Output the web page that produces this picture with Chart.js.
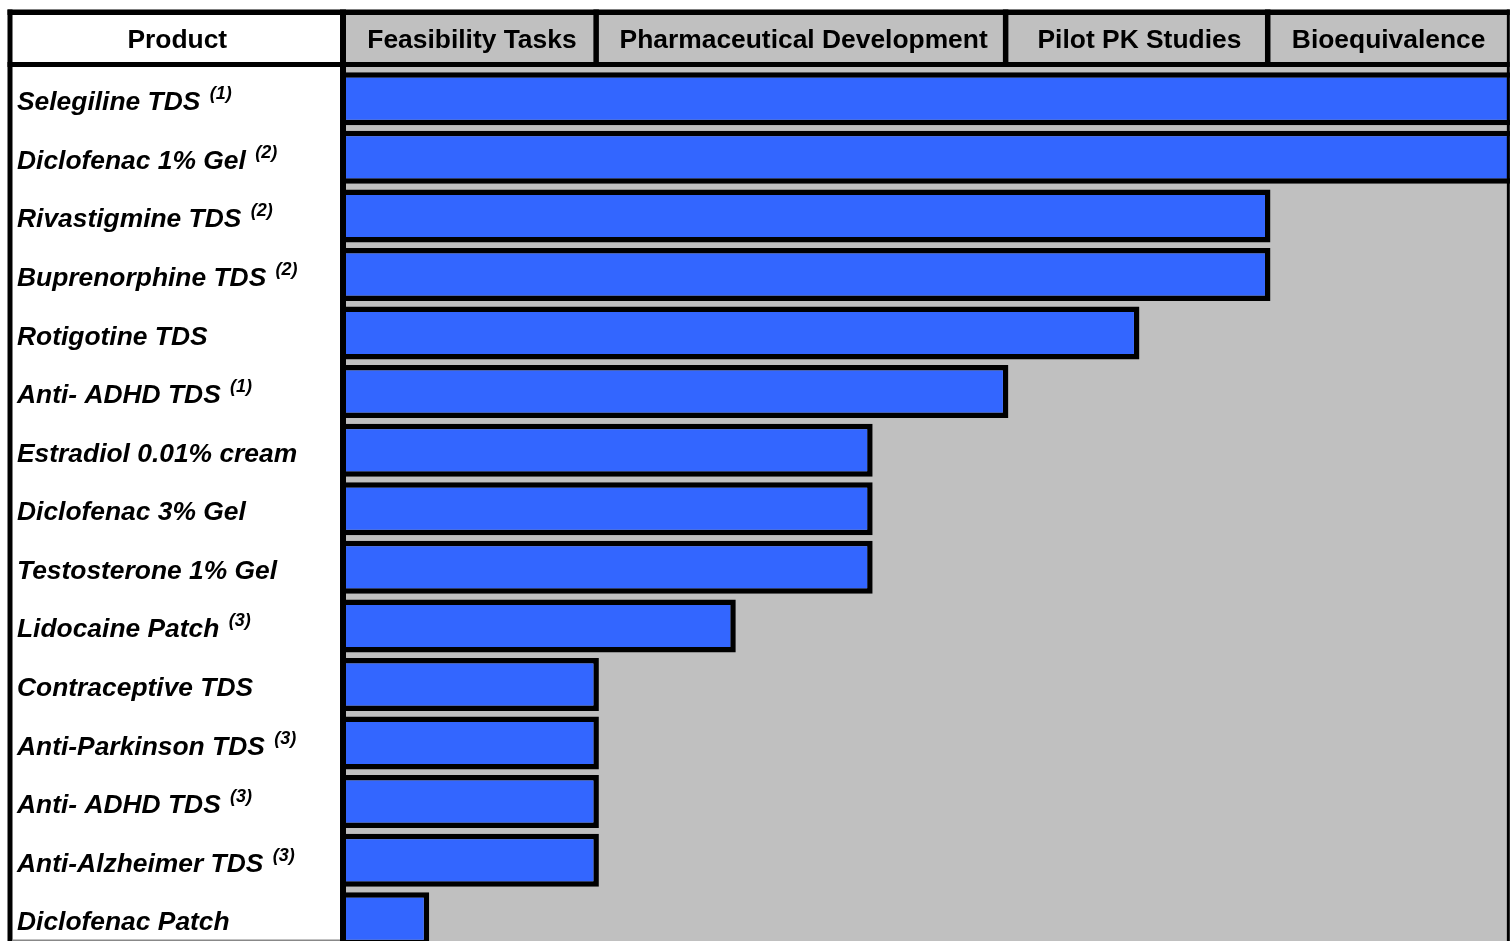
<!DOCTYPE html>
<html>
<head>
<meta charset="utf-8">
<script src="https://cdn.jsdelivr.net/npm/chart.js@4/dist/chart.umd.min.js"></script>
<style>
  html, body { margin: 0; padding: 0; background: #ffffff; overflow: hidden; }
  #wrap { position: relative; width: 1510px; height: 941px; overflow: hidden; }
  #c { position: absolute; left: 0; top: 0; }
</style>
</head>
<body>
<div id="wrap"><canvas id="c" width="1515" height="948"></canvas></div>
<script>
// ---- data ----
const products = [
  'Selegiline TDS', 'Diclofenac 1% Gel', 'Rivastigmine TDS', 'Buprenorphine TDS',
  'Rotigotine TDS', 'Anti- ADHD TDS', 'Estradiol 0.01% cream', 'Diclofenac 3% Gel',
  'Testosterone 1% Gel', 'Lidocaine Patch', 'Contraceptive TDS', 'Anti-Parkinson TDS',
  'Anti- ADHD TDS', 'Anti-Alzheimer TDS', 'Diclofenac Patch'
];
const footnotes = ['(1)', '(2)', '(2)', '(2)', '', '(1)', '', '', '', '(3)', '', '(3)', '(3)', '(3)', ''];
// progress along the development pipeline (percent of axis)
const progress = [100, 100, 79.1, 79.1, 67.9, 56.7, 45.1, 45.1, 45.1, 33.4, 21.7, 21.7, 21.7, 21.7, 7.2];
const stages = ['Feasibility Tasks', 'Pharmaceutical Development', 'Pilot PK Studies', 'Bioequivalence'];
const stageEnds = [21.7, 56.7, 79.1, 99.3];
const columnTitle = 'Product';

const BLUE = '#3366FF';
const GRAY = '#C0C0C0';
const FONT = '"Liberation Sans", Arial, Helvetica, sans-serif';

const tablePlugin = {
  id: 'tablePlugin',
  beforeDatasetsDraw(chart) {
    const ctx = chart.ctx;
    const x = chart.scales.x;
    const ca = chart.chartArea;
    const left = x.getPixelForValue(0);
    const right = x.getPixelForValue(stageEnds[stageEnds.length - 1]);
    ctx.save();
    ctx.fillStyle = GRAY;
    ctx.fillRect(left, 62, right - left, ca.bottom - 62);
    ctx.fillRect(left, 12, right - left, 52);
    ctx.restore();
  },
  afterDatasetsDraw(chart) {
    const ctx = chart.ctx;
    const x = chart.scales.x;
    const y = chart.scales.y;
    const left = x.getPixelForValue(0);
    const right = x.getPixelForValue(stageEnds[stageEnds.length - 1]);
    const H = chart.height;
    ctx.save();
    ctx.fillStyle = '#000000';
    ctx.fillRect(7.5, 9.5, right + 3 - 7.5, 5.5);   // top frame
    ctx.fillRect(7.5, 9.5, 5, H);                    // left frame
    ctx.fillRect(7.5, 62, right + 3 - 7.5, 5);       // header bottom line
    ctx.fillRect(340, 9.5, 6, H);                    // product column divider
    ctx.fillRect(right, 9.5, 3, H);                  // right frame
    for (let i = 0; i < stageEnds.length - 1; i++) {
      const px = x.getPixelForValue(stageEnds[i]);
      ctx.fillRect(px - 5.5, 9.5, 5.5, 55);
    }
    ctx.fillStyle = '#888888';
    ctx.fillRect(12.5, 939.5, 327.5, 1.5);

    // header texts
    ctx.fillStyle = '#000000';
    ctx.textAlign = 'center';
    ctx.textBaseline = 'alphabetic';
    ctx.font = 'bold 26.4px ' + FONT;
    ctx.fillText(columnTitle, (12.5 + 340) / 2 + 1, 47.5);
    let prev = 0;
    for (let i = 0; i < stages.length; i++) {
      const a = x.getPixelForValue(prev);
      const b = x.getPixelForValue(stageEnds[i]);
      ctx.fillText(stages[i], (a + b) / 2, 47.5);
      prev = stageEnds[i];
    }

    // product labels
    ctx.textAlign = 'left';
    for (let i = 0; i < products.length; i++) {
      const cy = y.getPixelForValue(i);
      const base = cy + 11.5;
      ctx.font = 'italic bold 26.4px ' + FONT;
      ctx.fillText(products[i], 17, base);
      if (footnotes[i]) {
        const w = ctx.measureText(products[i] + ' ').width;
        ctx.font = 'italic bold 18px ' + FONT;
        ctx.fillText(footnotes[i], 17 + w + 2, base - 11);
      }
    }
    ctx.restore();
  }
};

new Chart(document.getElementById('c'), {
  type: 'bar',
  data: {
    labels: products,
    datasets: [{
      data: progress,
      backgroundColor: BLUE,
      borderColor: '#000000',
      borderWidth: 5.5,
      borderSkipped: 'start',
      barPercentage: 0.905,
      categoryPercentage: 1.0
    }]
  },
  options: {
    indexAxis: 'y',
    responsive: false,
    animation: false,
    devicePixelRatio: 1,
    layout: { padding: { left: 345, top: 69.5, right: 0, bottom: 0 } },
    plugins: { legend: { display: false }, tooltip: { enabled: false } },
    scales: {
      x: { display: false, min: 0, max: 100, grid: { display: false } },
      y: { display: false, grid: { display: false } }
    }
  },
  plugins: [tablePlugin]
});
</script>
</body>
</html>
